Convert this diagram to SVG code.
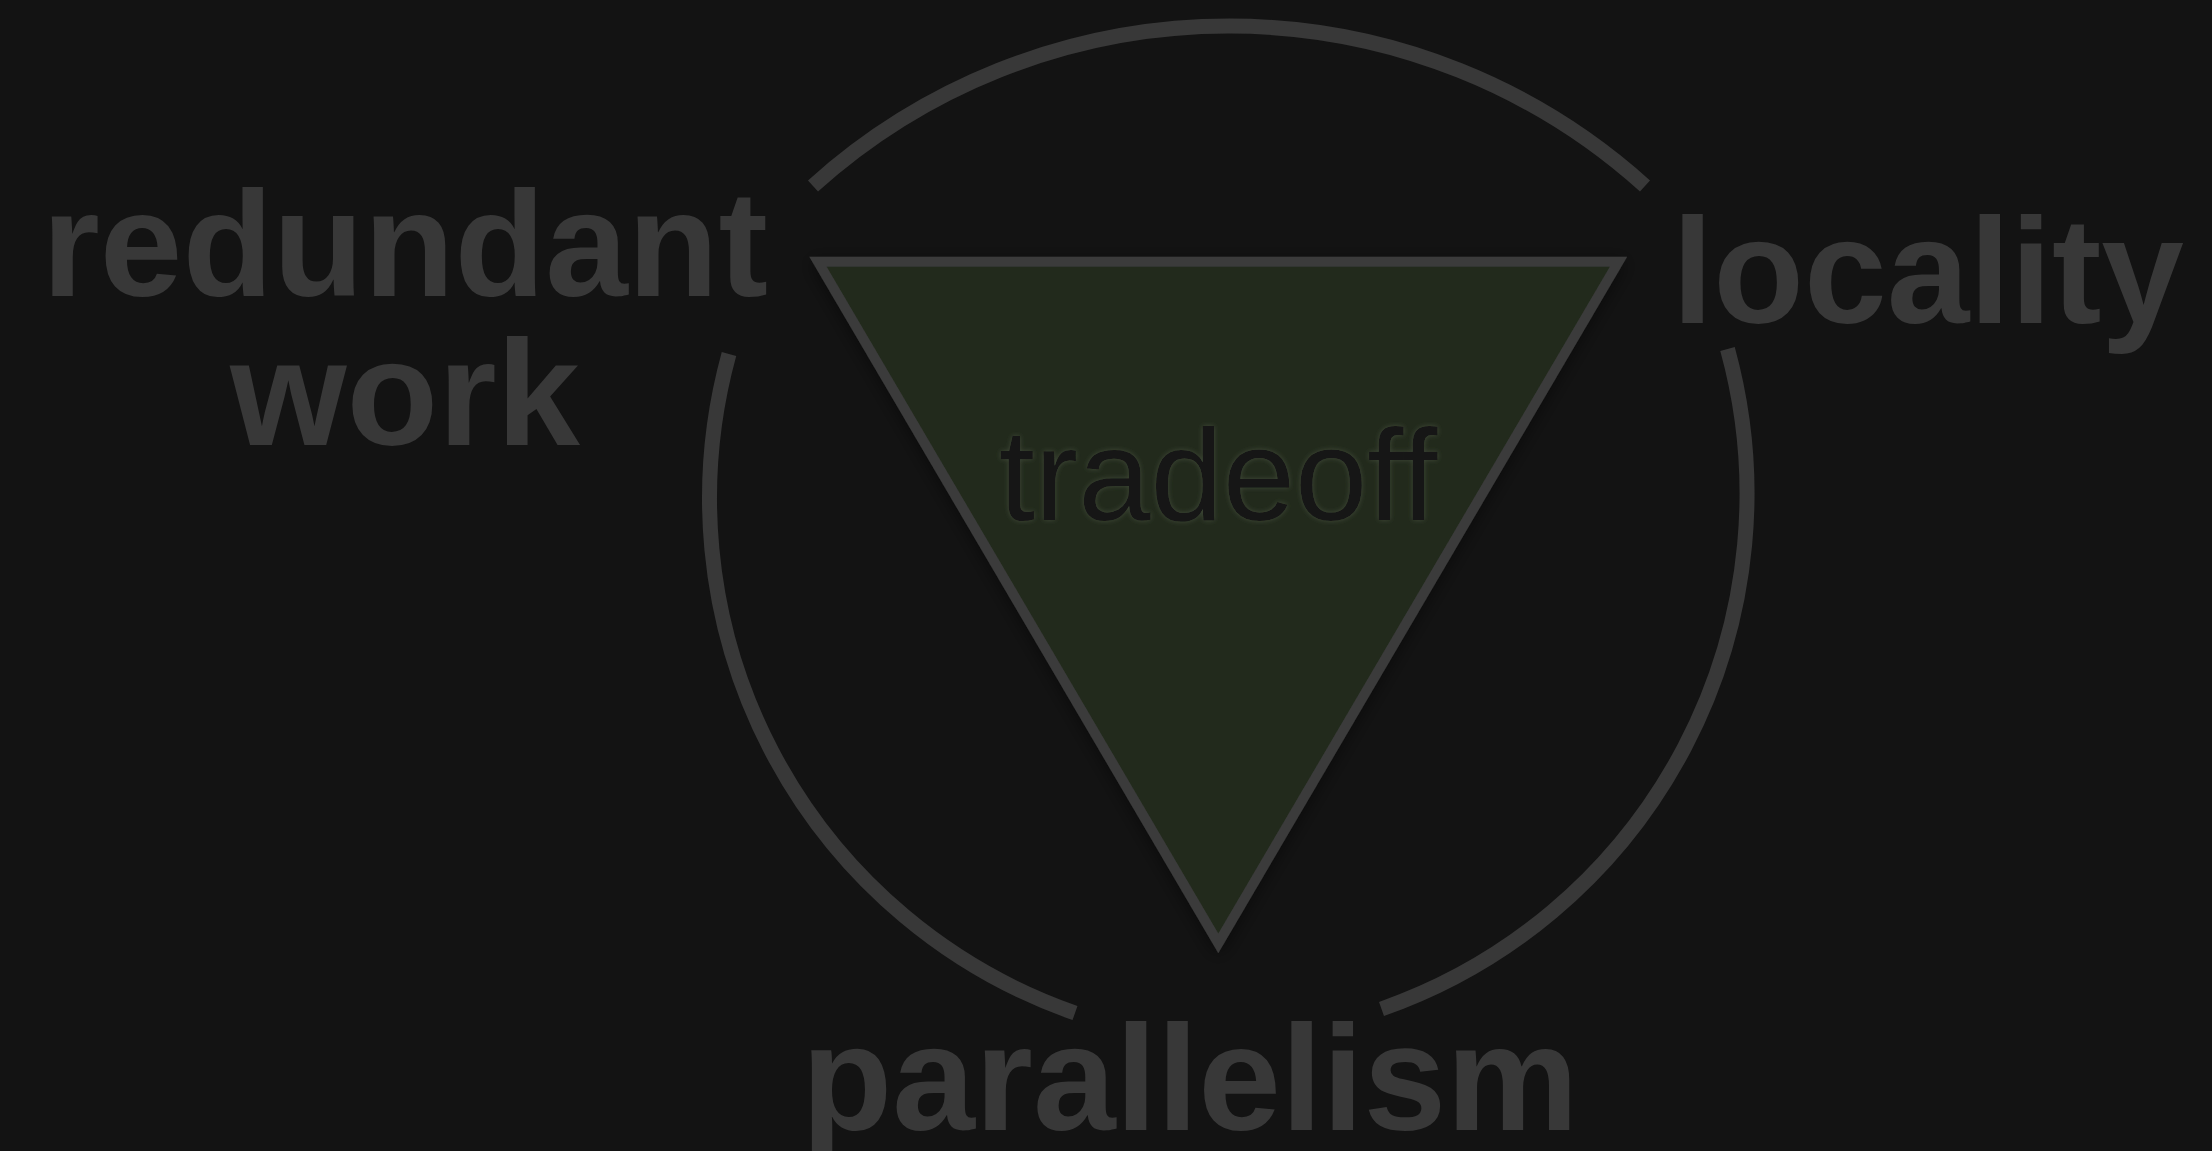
<svg xmlns="http://www.w3.org/2000/svg" width="2212" height="1151" viewBox="0 0 2212 1151">
  <style>
    .label { font-family: "Liberation Sans", Arial, Helvetica, sans-serif; font-weight: bold; font-size: 150px; fill: #383838; }
    .center { font-family: "Liberation Sans", Arial, Helvetica, sans-serif; font-weight: normal; font-size: 130px; fill: #141414; }
    .arc { fill: none; stroke: #383838; stroke-width: 15; stroke-linecap: butt; }
    .tri { fill: #222b1c; stroke: #3a3a3a; stroke-width: 10; stroke-linejoin: miter; stroke-miterlimit: 10; }
  </style>
  <defs>
    <filter id="shadow" x="-20%" y="-20%" width="140%" height="140%">
      <feDropShadow dx="0" dy="4" stdDeviation="9" flood-color="#000000" flood-opacity="0.45"/>
    </filter>
    <filter id="glow" x="-10%" y="-30%" width="120%" height="160%">
      <feDropShadow dx="0" dy="0" stdDeviation="2.5" flood-color="#5a6450" flood-opacity="0.55"/>
    </filter>
  </defs>
  <rect x="0" y="0" width="2212" height="1151" fill="#131313"/>

  <g id="connectors">
    <path class="arc" d="M 813 186 A 621 621 0 0 1 1645 186"/>
    <path class="arc" d="M 729 354 A 545 545 0 0 0 1075 1013"/>
    <path class="arc" d="M 1727.5 349 A 546 546 0 0 1 1381.5 1009"/>
  </g>

  <g id="tradeoff">
    <path class="tri" filter="url(#shadow)" d="M 818 261.7 L 1618.5 261.7 L 1218.3 943.3 Z"/>
    <text class="center" x="1218" y="520" text-anchor="middle" filter="url(#glow)">tradeoff</text>
  </g>

  <g id="redundant-work">
    <text class="label" x="405" y="296" text-anchor="middle" textLength="726" lengthAdjust="spacingAndGlyphs">redundant</text>
    <text class="label" x="405" y="445" text-anchor="middle">work</text>
  </g>

  <g id="locality">
    <text class="label" x="1672" y="323" textLength="512" lengthAdjust="spacingAndGlyphs">locality</text>
  </g>

  <g id="parallelism">
    <text class="label" x="1190" y="1130" text-anchor="middle" textLength="777" lengthAdjust="spacingAndGlyphs">parallelism</text>
  </g>
</svg>
